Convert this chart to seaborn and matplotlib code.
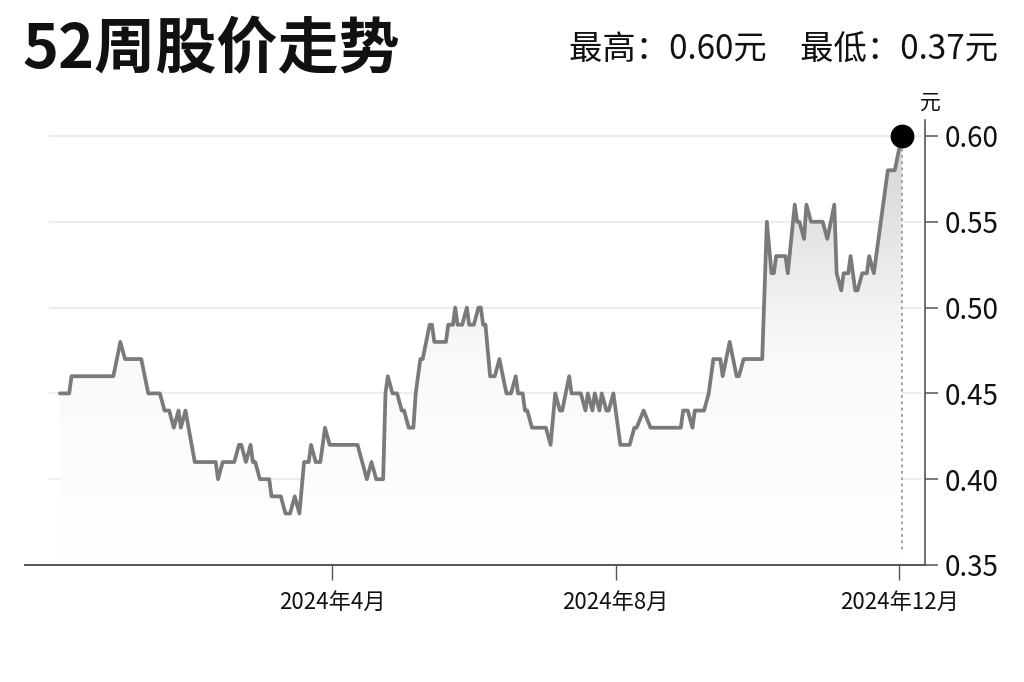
import numpy as np
import pandas as pd
import matplotlib
matplotlib.use("Agg")
import matplotlib.pyplot as plt
import matplotlib.dates as mdates
from matplotlib.colors import LinearSegmentedColormap
import seaborn as sns

# ---------------- data ----------------
dates = [
    "2023-12-06", "2023-12-10", "2023-12-11", "2023-12-29", "2024-01-01", "2024-01-03",
    "2024-01-10", "2024-01-13", "2024-01-18", "2024-01-20", "2024-01-22", "2024-01-24",
    "2024-01-26", "2024-01-27", "2024-01-29", "2024-02-02", "2024-02-11", "2024-02-12",
    "2024-02-14", "2024-02-19", "2024-02-21", "2024-02-22", "2024-02-24", "2024-02-26",
    "2024-02-27", "2024-02-28", "2024-03-01", "2024-03-05", "2024-03-06", "2024-03-10",
    "2024-03-12", "2024-03-14", "2024-03-16", "2024-03-18", "2024-03-20", "2024-03-22",
    "2024-03-23", "2024-03-25", "2024-03-27", "2024-03-29", "2024-03-31", "2024-04-12",
    "2024-04-16", "2024-04-18", "2024-04-20", "2024-04-23", "2024-04-24", "2024-04-25",
    "2024-04-27", "2024-04-29", "2024-05-01", "2024-05-02", "2024-05-04", "2024-05-06",
    "2024-05-07", "2024-05-09", "2024-05-10", "2024-05-13", "2024-05-14", "2024-05-15",
    "2024-05-20", "2024-05-21", "2024-05-23", "2024-05-24", "2024-05-25", "2024-05-27",
    "2024-05-29", "2024-05-30", "2024-06-01", "2024-06-03", "2024-06-04", "2024-06-05",
    "2024-06-06", "2024-06-08", "2024-06-10", "2024-06-12", "2024-06-15", "2024-06-17",
    "2024-06-19", "2024-06-20", "2024-06-22", "2024-06-23", "2024-06-24", "2024-06-26",
    "2024-07-02", "2024-07-04", "2024-07-06", "2024-07-08", "2024-07-09", "2024-07-12",
    "2024-07-13", "2024-07-17", "2024-07-19", "2024-07-20", "2024-07-22", "2024-07-23",
    "2024-07-25", "2024-07-26", "2024-07-28", "2024-07-29", "2024-07-31", "2024-08-03",
    "2024-08-07", "2024-08-09", "2024-08-10", "2024-08-13", "2024-08-16", "2024-08-29",
    "2024-08-30", "2024-09-01", "2024-09-03", "2024-09-04", "2024-09-08", "2024-09-10",
    "2024-09-12", "2024-09-15", "2024-09-16", "2024-09-19", "2024-09-22", "2024-09-23",
    "2024-09-25", "2024-10-03", "2024-10-05", "2024-10-07", "2024-10-08", "2024-10-09",
    "2024-10-13", "2024-10-14", "2024-10-17", "2024-10-18", "2024-10-19", "2024-10-21",
    "2024-10-22", "2024-10-24", "2024-10-29", "2024-10-31", "2024-11-03", "2024-11-04",
    "2024-11-06", "2024-11-07", "2024-11-09", "2024-11-10", "2024-11-12", "2024-11-13",
    "2024-11-15", "2024-11-17", "2024-11-18", "2024-11-20", "2024-11-22", "2024-11-24",
    "2024-11-26", "2024-11-29", "2024-12-02",
]
prices = [
    0.45, 0.45, 0.46, 0.46, 0.48, 0.47,
    0.47, 0.45, 0.45, 0.44, 0.44, 0.43,
    0.44, 0.43, 0.44, 0.41, 0.41, 0.40,
    0.41, 0.41, 0.42, 0.42, 0.41, 0.42,
    0.41, 0.41, 0.40, 0.40, 0.39, 0.39,
    0.38, 0.38, 0.39, 0.38, 0.41, 0.41,
    0.42, 0.41, 0.41, 0.43, 0.42, 0.42,
    0.40, 0.41, 0.40, 0.40, 0.45, 0.46,
    0.45, 0.45, 0.44, 0.44, 0.43, 0.43,
    0.45, 0.47, 0.47, 0.49, 0.49, 0.48,
    0.48, 0.49, 0.49, 0.50, 0.49, 0.49,
    0.50, 0.49, 0.49, 0.50, 0.50, 0.49,
    0.49, 0.46, 0.46, 0.47, 0.45, 0.45,
    0.46, 0.45, 0.45, 0.44, 0.44, 0.43,
    0.43, 0.42, 0.45, 0.44, 0.44, 0.46,
    0.45, 0.45, 0.44, 0.45, 0.44, 0.45,
    0.44, 0.45, 0.44, 0.44, 0.45, 0.42,
    0.42, 0.43, 0.43, 0.44, 0.43, 0.43,
    0.44, 0.44, 0.43, 0.44, 0.44, 0.45,
    0.47, 0.47, 0.46, 0.48, 0.46, 0.46,
    0.47, 0.47, 0.55, 0.52, 0.52, 0.53,
    0.53, 0.52, 0.56, 0.55, 0.55, 0.54,
    0.56, 0.55, 0.55, 0.54, 0.56, 0.52,
    0.51, 0.52, 0.52, 0.53, 0.51, 0.51,
    0.52, 0.52, 0.53, 0.52, 0.54, 0.56,
    0.58, 0.58, 0.60,
]
x_tick_dates = ["2024-04-01", "2024-08-01", "2024-12-01"]
x_tick_labels = ["2024年4月", "2024年8月", "2024年12月"]
y_ticks = [0.35, 0.40, 0.45, 0.50, 0.55, 0.60]
y_tick_labels = ["0.35", "0.40", "0.45", "0.50", "0.55", "0.60"]
title = "52周股价走势"
subtitle = "最高：0.60元　最低：0.37元"
unit = "元"

df = pd.DataFrame({"date": pd.to_datetime(dates), "price": prices})

# ---------------- style ----------------
sns.set_theme(style="white")
plt.rcParams["font.family"] = ["Noto Sans CJK SC", "DejaVu Sans"]

fig = plt.figure(figsize=(10.24, 6.82), dpi=100)
ax = fig.add_axes([25 / 1024, 1 - 565 / 682, 900 / 1024, (565 - 120) / 682])

line_color = "#7a7a7a"
axis_color = "#555555"

x_min = pd.Timestamp("2023-11-21")
x_max = pd.Timestamp("2024-12-12")
y_min, y_max = 0.35, 0.6093

# gridlines
for yv in y_ticks[1:]:
    ax.axhline(yv, xmin=25 / 900, xmax=0.995, color="#eeeeee", lw=1.6, zorder=0)

# gradient fill under the line
poly = ax.fill_between(df["date"], df["price"], y_min, color="none", lw=0)
grad = np.linspace(1, 0, 256).reshape(-1, 1)
cmap = LinearSegmentedColormap.from_list("g", ["#ffffff", "#f9f9f9", "#d4d4d4"])
im = ax.imshow(grad, cmap=cmap, aspect="auto", origin="upper",
               extent=[mdates.date2num(x_min), mdates.date2num(x_max), y_min, 0.60],
               zorder=1, interpolation="bilinear")
im.set_clip_path(poly.get_paths()[0], transform=ax.transData)

# main line
sns.lineplot(data=df, x="date", y="price", ax=ax, color=line_color, lw=2.7,
             zorder=3, legend=False)

# last point marker and dotted drop line
last_date = df["date"].iloc[-1]
last_val = df["price"].iloc[-1]
ax.plot([last_date, last_date], [last_val, 0.359], color="#9a9a9a", lw=1.3,
        ls=(0, (1.5, 2.0)), zorder=2)
ax.scatter([last_date], [last_val], s=260, color="black", zorder=5, clip_on=False)

ax.set_xlim(x_min, x_max)
ax.set_ylim(y_min, y_max)

# axes styling
for s in ["top", "left"]:
    ax.spines[s].set_visible(False)
ax.spines["right"].set_color(axis_color)
ax.spines["right"].set_linewidth(1.2)
ax.spines["bottom"].set_color(axis_color)
ax.spines["bottom"].set_linewidth(1.4)

ax.yaxis.tick_right()
ax.set_yticks(y_ticks)
ax.set_yticklabels(y_tick_labels, fontsize=20, color="#111111")
ax.tick_params(axis="y", direction="out", length=9, width=1.1, color=axis_color,
               pad=5, right=True, left=False)

ax.set_xticks(pd.to_datetime(x_tick_dates))
ax.set_xticklabels(x_tick_labels, fontsize=16, color="#111111")
ax.tick_params(axis="x", direction="out", length=11, width=1.0, color=axis_color,
               pad=8, bottom=True)
ax.set_xlabel("")
ax.set_ylabel("")

# texts
fig.text(22 / 1024, 1 - 50 / 682, title, fontsize=44, fontweight="bold",
         ha="left", va="center", color="#111111")
fig.text(998 / 1024, 1 - 50 / 682, subtitle, fontsize=24, ha="right", va="center",
         color="#111111")
fig.text(930 / 1024, 1 - 103 / 682, unit, fontsize=15, ha="center", va="center",
         color="#111111")

fig.savefig("out.png", dpi=100, facecolor="white")
